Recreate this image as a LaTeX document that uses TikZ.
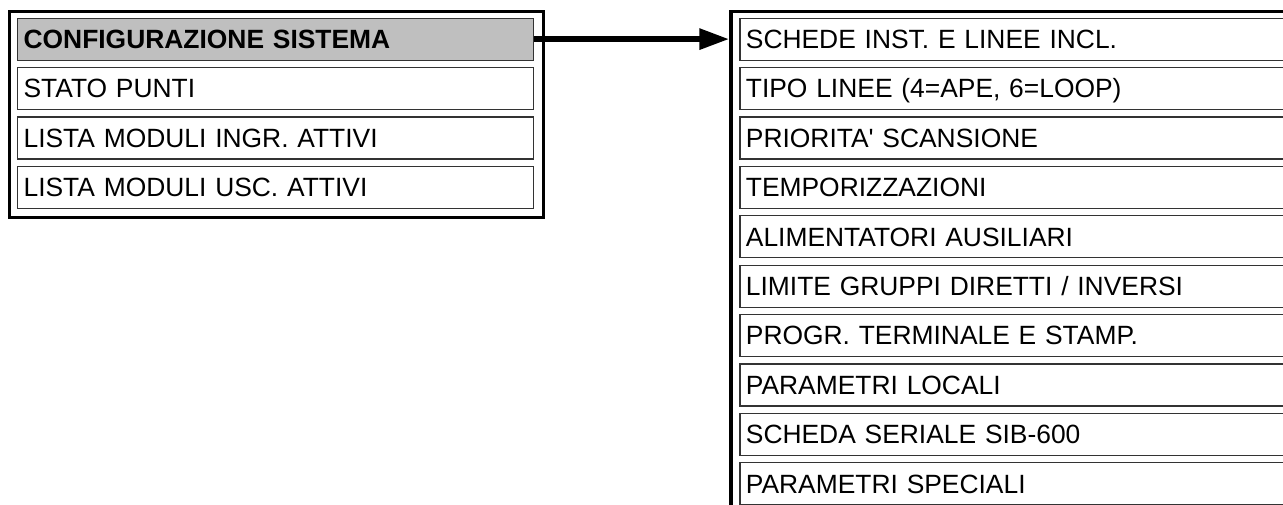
\documentclass[tikz,border=0pt]{standalone}
\usepackage{fontspec}
\setmainfont{Liberation Sans}
\usetikzlibrary{arrows.meta}
\begin{document}
\begin{tikzpicture}[x=0.75pt,y=-0.75pt,
  outerbox/.style={draw=black,line width=2.4pt},
  rowbox/.style={draw=black!80,line width=0.9pt,rectangle,anchor=north west,
    inner xsep=4.5pt,inner ysep=0pt,minimum height=31.5pt,
    text height=14.2pt,text depth=0pt,align=left,
    font=\fontsize{19.8}{23}\selectfont},
  leftrow/.style={rowbox,text width=378pt,minimum width=387pt},
  rightrow/.style={rowbox,text width=450pt,minimum width=459pt},
  selrow/.style={fill=black!25,font=\fontsize{19.8}{23}\selectfont\bfseries}
]
\useasboundingbox (0,0) rectangle (1283,504);
\clip (0,0) rectangle (1283,504);
\fill[white] (0,0) rectangle (1283,504);
% left menu
\node[outerbox,rectangle,anchor=north west,minimum width=400.5pt,minimum height=154.6pt,inner sep=0pt] (L) at (7.5,9.5) {};
\node[leftrow,selrow] (c1) at (17,17.5) {CONFIGURAZIONE SISTEMA};
\node[leftrow] (c2) at (17,66.9) {STATO PUNTI};
\node[leftrow] (c3) at (17,116.3) {LISTA MODULI INGR. ATTIVI};
\node[leftrow] (c4) at (17,165.7) {LISTA MODULI USC. ATTIVI};
% right menu
\node[outerbox,rectangle,anchor=north west,minimum width=450pt,minimum height=400pt,inner sep=0pt] (R) at (729.3,10) {};
\node[rightrow] (r1) at (739.3,17.5) {SCHEDE INST. E LINEE INCL.};
\node[rightrow] (r2) at (739.3,66.9) {TIPO LINEE (4=APE, 6=LOOP)};
\node[rightrow] (r3) at (739.3,116.3) {PRIORITA\textquotesingle{} SCANSIONE};
\node[rightrow] (r4) at (739.3,165.7) {TEMPORIZZAZIONI};
\node[rightrow] (r5) at (739.3,215.1) {ALIMENTATORI AUSILIARI};
\node[rightrow] (r6) at (739.3,264.5) {LIMITE GRUPPI DIRETTI / INVERSI};
\node[rightrow] (r7) at (739.3,313.9) {PROGR. TERMINALE E STAMP.};
\node[rightrow] (r8) at (739.3,363.3) {PARAMETRI LOCALI};
\node[rightrow] (r9) at (739.3,412.7) {SCHEDA SERIALE SIB-600};
\node[rightrow] (r10) at (739.3,462.1) {PARAMETRI SPECIALI};
% arrow
\draw[line width=4.5pt,-{Triangle[length=22.5pt,width=15pt]}] (c1.east) -- (c1.east -| R.west);
\end{tikzpicture}
\end{document}
